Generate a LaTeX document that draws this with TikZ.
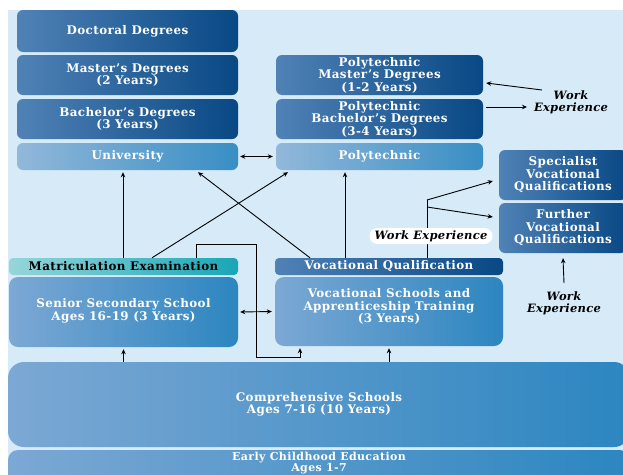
\documentclass[tikz,border=0pt]{standalone}
\usepackage{fontspec}
\setmainfont{DejaVu Serif}
\usetikzlibrary{arrows.meta}
\definecolor{bg}{RGB}{214,234,248}
\definecolor{darkL}{RGB}{80,130,182}
\definecolor{darkR}{RGB}{8,72,132}
\definecolor{lightL}{RGB}{146,184,218}
\definecolor{lightR}{RGB}{56,142,196}
\definecolor{midL}{RGB}{124,168,212}
\definecolor{midR}{RGB}{44,134,192}
\definecolor{tealL}{RGB}{150,214,218}
\definecolor{tealR}{RGB}{24,166,182}
\tikzset{
  box/.style={rectangle, rounded corners=6pt, inner sep=0pt, align=center,
    text=white, font=\fontsize{11.9}{12.5}\selectfont\bfseries\addfontfeature{LetterSpace=3.5}},
  darkbox/.style={box, left color=darkL, right color=darkR},
  lightbox/.style={box, left color=lightL, right color=lightR},
  midbox/.style={box, left color=midL, right color=midR},
  tealbar/.style={box, rounded corners=4pt, left color=tealL, right color=tealR, text=black},
  darkbar/.style={box, rounded corners=4pt, left color=darkL, right color=darkR},
  wtext/.style={align=center, inner sep=0pt, text=black,
    font=\fontsize{11.5}{12}\selectfont\bfseries\itshape\addfontfeature{LetterSpace=2.5}},
  arr/.style={line width=0.9pt, -{Stealth[length=5pt,width=4.5pt]}},
  darr/.style={line width=0.9pt, {Stealth[length=5pt,width=4.5pt]}-{Stealth[length=5pt,width=4.5pt]}},
  ln/.style={line width=0.9pt}
}
\begin{document}
\begin{tikzpicture}[x=1pt,y=-1pt]
\useasboundingbox (0,0) rectangle (623,474);
\fill[white] (0,0) rectangle (623,474);
\fill[bg] (8,10) rectangle (623,474);
\begin{scope}
\clip (0,0) rectangle (623,474);
% left column
\node[darkbox, minimum width=221pt, minimum height=42pt] (doct) at (127.5,31) {Doctoral Degrees};
\node[darkbox, minimum width=221pt, minimum height=40pt] (mast) at (127.5,75) {Master's Degrees\\(2 Years)};
\node[darkbox, minimum width=221pt, minimum height=40pt] (bach) at (127.5,119) {Bachelor's Degrees\\(3 Years)};
\node[lightbox, minimum width=221pt, minimum height=27pt] (univ) at (127.5,156.5) {University};
% polytechnic column
\node[darkbox, minimum width=207pt, minimum height=40pt] (pmast) at (379.5,75) {Polytechnic\\Master's Degrees\\(1-2 Years)};
\node[darkbox, minimum width=207pt, minimum height=40pt] (pbach) at (379.5,119) {Polytechnic\\Bachelor's Degrees\\(3-4 Years)};
\node[lightbox, minimum width=207pt, minimum height=27pt] (poly) at (379.5,156.5) {Polytechnic};
% right column
\node[darkbox, minimum width=128pt, minimum height=50pt] (spec) at (563,175) {Specialist\\Vocational\\Qualifications};
\node[darkbox, minimum width=128pt, minimum height=50pt] (furth) at (563,228) {Further\\Vocational\\Qualifications};
% secondary level
\node[tealbar, minimum width=229pt, minimum height=17pt] (matric) at (123.5,266.5) {Matriculation Examination};
\node[midbox, minimum width=229pt, minimum height=70pt, rounded corners=9pt] (senior) at (123.5,312) {Senior Secondary School\\Ages 16-19 (3 Years)\\[-7.5pt]};
\node[darkbar, minimum width=228pt, minimum height=17pt] (vq) at (389,266.5) {Vocational Qualification};
\node[midbox, minimum width=228pt, minimum height=69pt, rounded corners=9pt] (vocs) at (389,311.5) {Vocational Schools and\\Apprenticeship Training\\(3 Years)\\[-0.5pt]};
% base
\node[midbox, minimum width=622pt, minimum height=85pt, rounded corners=16pt] (comp) at (319,404.5) {Comprehensive Schools\\Ages 7-16 (10 Years)};
\node[midbox, minimum width=622pt, minimum height=40pt, rounded corners=10pt,
  font=\fontsize{11}{11}\selectfont\bfseries\addfontfeature{LetterSpace=3.5}] (early) at (319,470) {Early Childhood Education\\Ages 1-7\\[5pt]};
\end{scope}
% connectors
\draw[darr] ([xshift=2pt]univ.east) -- ([xshift=-3pt]poly.west);
\draw[darr] ([xshift=2pt]senior.east) -- ([xshift=-3pt]vocs.west);
\draw[arr] ([xshift=-0.5pt]matric.north) -- ([xshift=-4.5pt, yshift=-2pt]univ.south);
\draw[arr] ([xshift=28.5pt]matric.north) -- ([xshift=-91.5pt, yshift=-2pt]poly.south);
\draw[arr] ([xshift=-79pt]vq.north) -- ([xshift=70.5pt, yshift=-2pt]univ.south);
\draw[arr] ([xshift=-44pt]vq.north) -- ([xshift=-34.5pt, yshift=-2pt]poly.south);
\coordinate (bendA) at (256,244);
\coordinate (bendB) at (256,357);
\draw[arr] ([xshift=72.5pt]matric.north) |- (bendA) -- (bendB) -| ([xshift=-89pt, yshift=-2pt]vocs.south);
\draw[arr] (comp.north -| senior.south) -- ([yshift=-2pt]senior.south);
\draw[arr] (comp.north -| vocs.south) -- ([yshift=-2pt]vocs.south);
% work experience branch
\coordinate (branch) at (427,200);
\coordinate (branch2) at (427,207);
\draw[ln] ([xshift=38pt]vq.north) -- (branch);
\draw[arr] (branch) -- ([xshift=-6pt, yshift=-6pt]spec.west);
\draw[arr] (branch2) -- ([xshift=-6pt, yshift=11pt]furth.west);
\node[fill=white, rounded corners=8pt, minimum width=123pt, minimum height=16pt, inner sep=0pt, wtext] (wepill) at (431,236) {Work Experience};
% top-right work experience
\node[wtext] (we1) at (571,102) {Work\\Experience};
\coordinate (we1a) at (542,90);
\coordinate (we1b) at (527,107);
\draw[arr] (we1a) -- ([xshift=3pt, yshift=-8pt]pmast.east);
\draw[arr] ([xshift=3pt, yshift=12pt]pbach.east) -- (we1b);
% lower right work experience
\node[wtext] (we2) at (564,303) {Work\\Experience};
\coordinate (we2a) at (564,283);
\draw[arr] (we2a) -- ([yshift=-5pt]furth.south);
\end{tikzpicture}
\end{document}
